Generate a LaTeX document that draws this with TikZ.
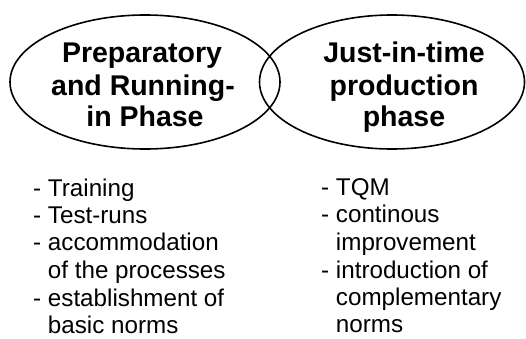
\documentclass[tikz,border=0pt]{standalone}
\usepackage{fontspec}
\setmainfont{Liberation Sans}
\begin{document}
\begin{tikzpicture}[x=1pt,y=1pt,
  ell/.style={draw=black,line width=1.6pt},
  title/.style={font=\bfseries\fontsize{28.5}{32}\selectfont,anchor=base,inner sep=0pt},
  item/.style={font=\fontsize{24.2}{28}\selectfont,anchor=base west,inner sep=0pt}]
\useasboundingbox (0,0) rectangle (526,338);
\draw[ell] (145,256) ellipse (135 and 67);
\draw[ell] (392,256) ellipse (132.5 and 67);
\node[title] (pt1) at (142,276) {Preparatory};
\node[title] (pt2) at (143,243) {and Running-};
\node[title] (pt3) at (145,212) {in Phase};
\node[title] (jt1) at (404,276) {Just-in-time};
\node[title] (jt2) at (404,243) {production};
\node[title] (jt3) at (404,212) {phase};
\node[item] (l1) at (33,142) {- Training};
\node[item] (l2) at (33,115) {- Test-runs};
\node[item] (l3) at (33,88) {- accommodation};
\node[item] (l4) at (33,60) {\phantom{- }of the processes};
\node[item] (l5) at (33,32) {- establishment of};
\node[item] (l6) at (33,5) {\phantom{- }basic norms};
\node[item] (r1) at (321,143) {- TQM};
\node[item] (r2) at (321,116) {- continous};
\node[item] (r3) at (321,88) {\phantom{- }improvement};
\node[item] (r4) at (321,60) {- introduction of};
\node[item] (r5) at (321,33) {\phantom{- }complementary};
\node[item] (r6) at (321,6) {\phantom{- }norms};
\end{tikzpicture}
\end{document}
